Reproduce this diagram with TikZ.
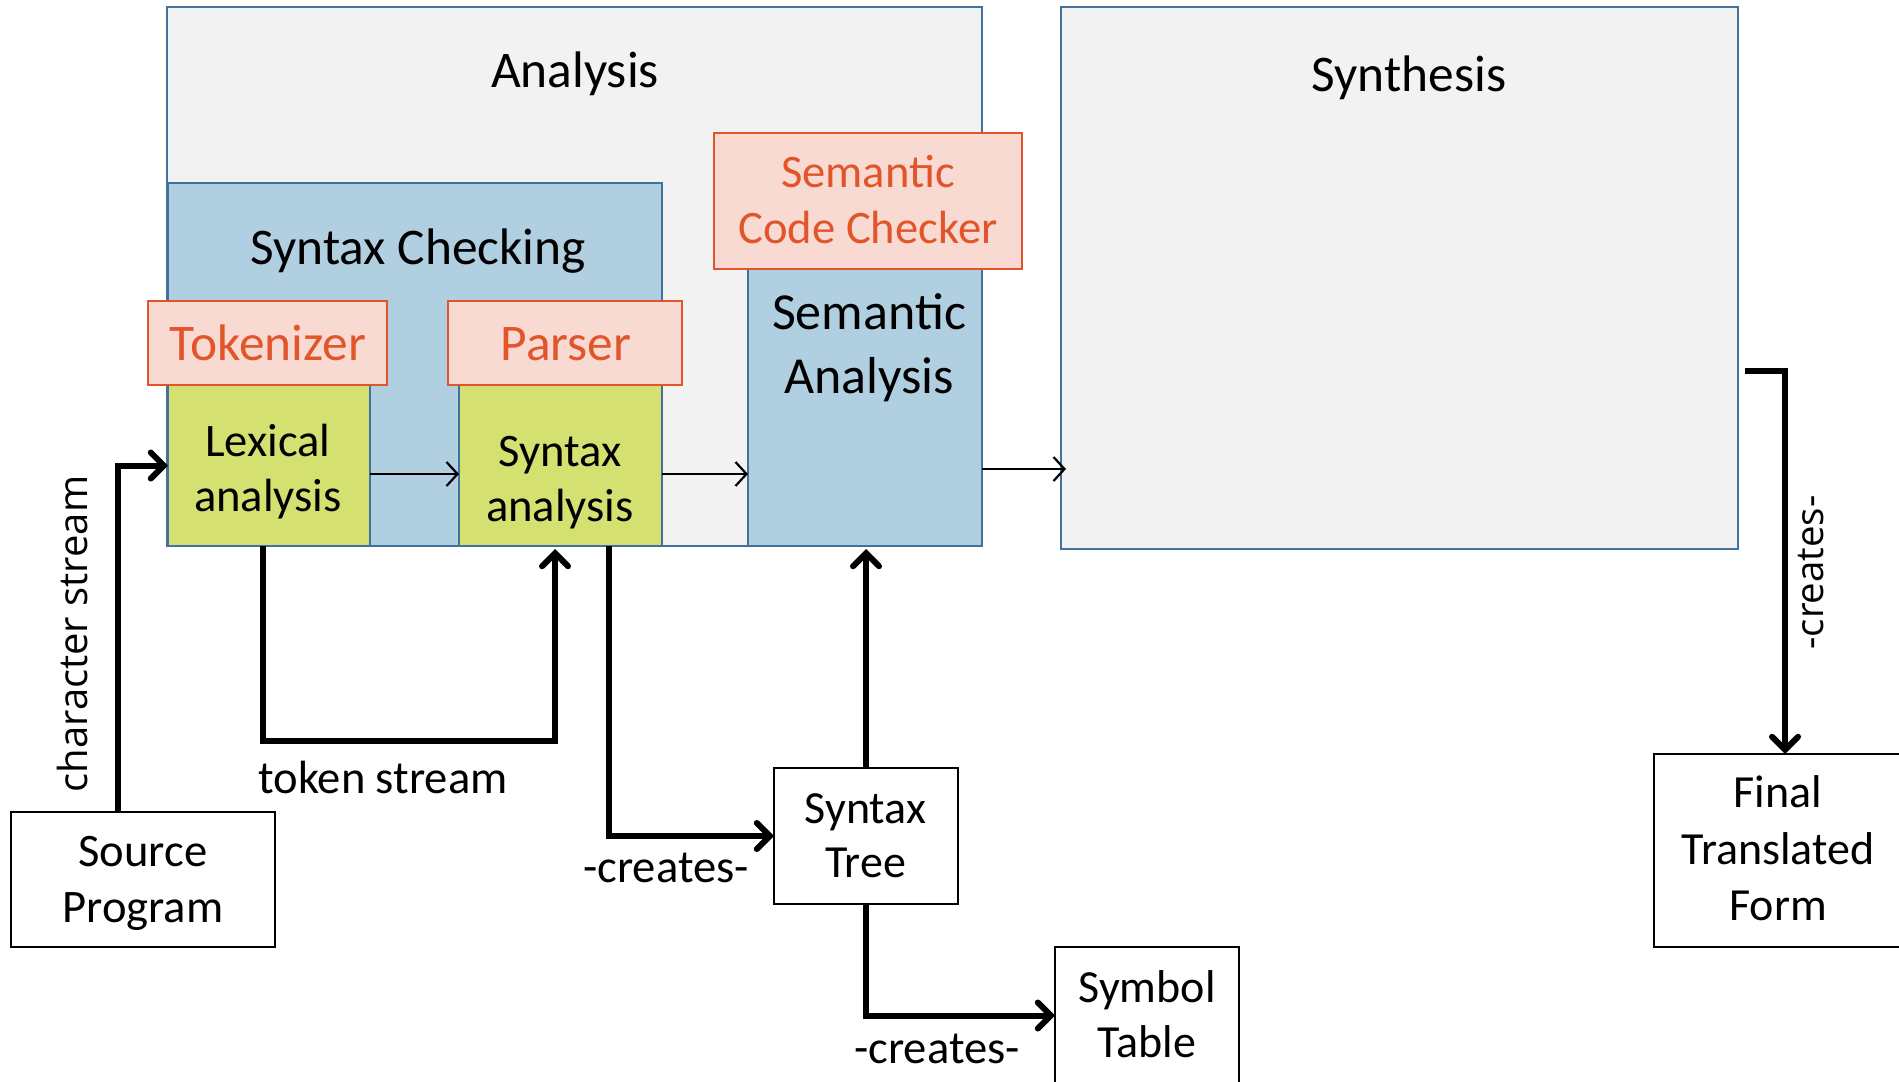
\documentclass[tikz,border=0pt]{standalone}
\usepackage{fontspec}
\setmainfont{Carlito}
\newfontfamily\widesans{Open Sans}
\usetikzlibrary{arrows.meta,fit}

\definecolor{panelgray}{HTML}{F2F2F2}
\definecolor{edgeblue}{HTML}{41719C}
\definecolor{stageblue}{HTML}{B0D0E2}
\definecolor{leafgreen}{HTML}{D4E06F}
\definecolor{toolpink}{HTML}{F8DAD3}
\definecolor{toolorange}{HTML}{E2552B}

\begin{document}
\begin{tikzpicture}[x=0.5pt,y=-0.5pt,
  frame/.style={draw=edgeblue, line width=1.2pt, inner sep=0pt, outer sep=0pt},
  panel/.style={frame, fill=panelgray},
  stage/.style={frame, fill=stageblue},
  leaf/.style={frame, fill=leafgreen},
  tool/.style={draw=toolorange, fill=toolpink, line width=1pt, inner sep=0pt, outer sep=0pt},
  plainbox/.style={draw=black, fill=white, line width=1pt, inner sep=0pt, outer sep=0pt},
  bigtext/.style={font=\fontsize{25.7}{32}\selectfont, inner sep=0pt, align=center},
  smalltext/.style={font=\fontsize{23.3}{27.5}\selectfont, inner sep=0pt, align=center},
  tooltext/.style={text=toolorange},
  flow/.style={line width=3pt, -{Straight Barb[length=6.5pt,width=13pt,line cap=round]}},
  link/.style={line width=1.1pt, -{Straight Barb[length=5.5pt,width=12pt]}}
]
\useasboundingbox (0,0) rectangle (1899,1081);

% compiler phases
\node[panel, fit={(167,7) (982,546)}] (ana) {};
\node[panel, fit={(1061,7) (1738,549)}] (syn) {};
\node[stage, fit={(168,183) (662,546)}] (chk) {};
\node[leaf, fit={(168,385) (370,546)}] (lex) {};
\node[leaf, fit={(459,385) (662,546)}] (sxa) {};
\node[tool, fit={(148,301) (387,385)}] (tok) {};
\node[tool, fit={(448,301) (682,385)}] (par) {};
\node[stage, fit={(748,269) (982,546)}] (sem) {};
\node[tool, fit={(714,133) (1022,269)}] (scc) {};

% inputs and products
\node[plainbox, fit={(11,812) (275,947)}] (src) {};
\node[plainbox, fit={(774,768) (958,904)}] (tree) {};
\node[plainbox, fit={(1055,947) (1239,1084)}] (sym) {};
\node[plainbox, fit={(1654,754) (1903,947)}] (fin) {};

% titles
\node[bigtext, anchor=base] (anaT) at (575,87.5) {Analysis};
\node[bigtext, anchor=base] (synT) at (1409,91) {Synthesis};
\node[bigtext, anchor=base] (chkT) at (418,264) {Syntax Checking};
\node[bigtext, tooltext, anchor=base] (tokT) at (268,360.7) {Tokenizer};
\node[bigtext, tooltext, anchor=base] (parT) at (566,360.7) {Parser};
\node[smalltext, font=\fontsize{23.3}{27.75}\selectfont, tooltext] (sccT) at (868,204.2) {\strut Semantic\\Code Checker\strut};
\node[bigtext, font=\fontsize{26}{32}\selectfont] (semT) at (869,348.2) {\strut Semantic\\Analysis\strut};
\node[smalltext] (lexT) at (268,472.5) {\strut Lexical\\analysis\strut};
\node[smalltext] (sxaT) at (560,482.5) {\strut Syntax\\analysis\strut};
\node[smalltext, font=\fontsize{23.3}{28}\selectfont] (srcT) at (143,882.8) {\strut Source\\Program\strut};
\node[smalltext, font=\fontsize{23}{27}\selectfont] (treeT) at (865.5,839.8) {\strut Syntax\\Tree\strut};
\node[smalltext, font=\fontsize{23}{27.75}\selectfont] (symT) at (1147,1018.7) {\strut Symbol\\Table\strut};
\node[smalltext, font=\fontsize{23}{28.25}\selectfont] (finT) at (1778,852.7) {\strut Final\\Translated\\Form\strut};

% connectors between phases
\coordinate (lexout) at ([yshift=-4.25pt]lex.east);
\coordinate (sxaout) at ([yshift=-4.25pt]sxa.east);
\coordinate (semout) at ([yshift=-30.75pt]sem.east);
\draw[link] (lexout) -- (lexout -| sxa.west);
\draw[link] (sxaout) -- (sxaout -| sem.west);
\draw[link] (semout) -- ([xshift=2.5pt]semout -| syn.west);

% data flow
\draw[flow] ([xshift=-12.5pt]src.north) |- (lex.west);
\draw[flow] ([xshift=-3pt]lex.south) -- ++(0,195) -| ([xshift=-2.75pt,yshift=-1.5pt]sxa.south);
\draw[flow] ([xshift=24pt]sxa.south) |- (tree.west);
\draw[flow] (tree.north) -- ([yshift=-1.5pt]tree.north |- sem.south);
\draw[flow] (tree.south) |- (sym.west);
\draw[flow] ([xshift=3.5pt,yshift=-46.5pt]syn.east) -| ([xshift=3.25pt]fin.north);

% connector labels
\node[smalltext, anchor=base] (tokL) at (383,793) {token stream};
\node[smalltext, anchor=base] (crL1) at (666,882) {-creates-};
\node[smalltext, anchor=base] (crL2) at (937,1063) {-creates-};
\node[font=\widesans\fontsize{20}{24}\selectfont, inner sep=0pt, rotate=90, anchor=base] (chL) at (87,634) {character stream};
\node[font=\widesans\fontsize{19.2}{23}\selectfont, inner sep=0pt, rotate=90, anchor=base] (crL3) at (1823,572.5) {-creates-};
\end{tikzpicture}
\end{document}
